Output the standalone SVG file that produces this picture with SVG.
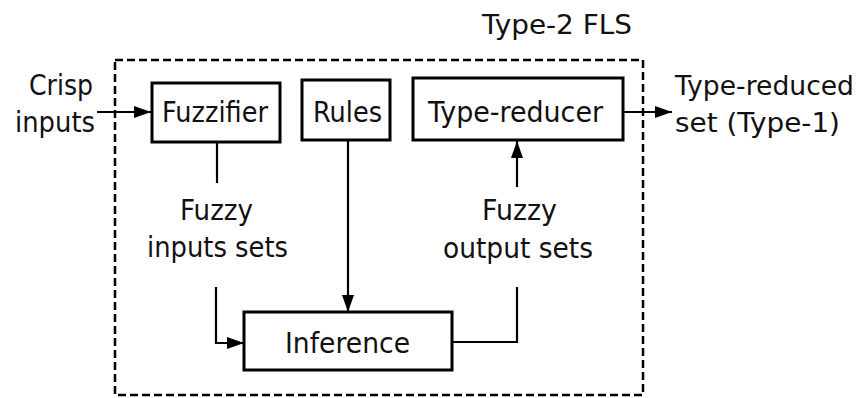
<svg xmlns="http://www.w3.org/2000/svg" width="863" height="398" viewBox="0 0 863 398">
<style>
text{font-family:"DejaVu Sans","Verdana",sans-serif;font-size:29px;fill:#111;}
.box{fill:#fff;stroke:#000;stroke-width:3;}
.frame{fill:none;stroke:#000;stroke-width:2.5;stroke-dasharray:8 4;}
.conn{fill:none;stroke:#000;stroke-width:2.2;}
.out{font-size:26px;}
</style>
<defs>
<marker id="ah" markerUnits="userSpaceOnUse" markerWidth="18" markerHeight="14" refX="17" refY="7" orient="auto">
<path d="M0,1 L17,7 L0,13 Z" fill="#000"/>
</marker>
</defs>
<rect width="863" height="398" fill="#fff"/>
<g id="fls">
<rect class="frame" x="115" y="60" width="528" height="335"/>
<text x="482" y="34" textLength="150" lengthAdjust="spacingAndGlyphs" style="font-size:26px">Type-2 FLS</text>
</g>
<g id="connectors">
<line class="conn" x1="97" y1="112" x2="151" y2="112" marker-end="url(#ah)"/>
<line class="conn" x1="217" y1="142" x2="217" y2="183"/>
<polyline class="conn" points="216,287 216,343 244,343" marker-end="url(#ah)"/>
<line class="conn" x1="348" y1="140" x2="348" y2="312" marker-end="url(#ah)"/>
<polyline class="conn" points="452,342 517,342 517,287"/>
<line class="conn" x1="517" y1="187" x2="517" y2="141" marker-end="url(#ah)"/>
<line class="conn" x1="623" y1="112" x2="672" y2="112" marker-end="url(#ah)"/>
</g>
<g id="crisp-inputs">
<text x="29" y="95" textLength="64" lengthAdjust="spacingAndGlyphs">Crisp</text>
<text x="15" y="132" textLength="80" lengthAdjust="spacingAndGlyphs">inputs</text>
</g>
<g id="fuzzifier">
<rect class="box" x="152" y="83" width="128" height="59"/>
<text x="162" y="122" textLength="106" lengthAdjust="spacingAndGlyphs">Fuzzifier</text>
</g>
<g id="rules">
<rect class="box" x="302" y="80" width="88" height="60"/>
<text x="313" y="122" textLength="69" lengthAdjust="spacingAndGlyphs">Rules</text>
</g>
<g id="type-reducer">
<rect class="box" x="413" y="78" width="210" height="62"/>
<text x="428" y="122" textLength="175" lengthAdjust="spacingAndGlyphs">Type-reducer</text>
</g>
<g id="inference">
<rect class="box" x="244" y="312" width="208" height="58"/>
<text x="285" y="353" textLength="125" lengthAdjust="spacingAndGlyphs">Inference</text>
</g>
<g id="type-reduced-set">
<text class="out" x="675" y="95" textLength="179" lengthAdjust="spacingAndGlyphs">Type-reduced</text>
<text class="out" x="675" y="132" textLength="165" lengthAdjust="spacingAndGlyphs">set (Type-1)</text>
</g>
<g id="fuzzy-input-sets">
<text x="180" y="220" textLength="73" lengthAdjust="spacingAndGlyphs">Fuzzy</text>
<text x="147" y="257" textLength="141" lengthAdjust="spacingAndGlyphs">inputs sets</text>
</g>
<g id="fuzzy-output-sets">
<text x="482" y="220" textLength="75" lengthAdjust="spacingAndGlyphs">Fuzzy</text>
<text x="443" y="258" textLength="150" lengthAdjust="spacingAndGlyphs">output sets</text>
</g>
</svg>
